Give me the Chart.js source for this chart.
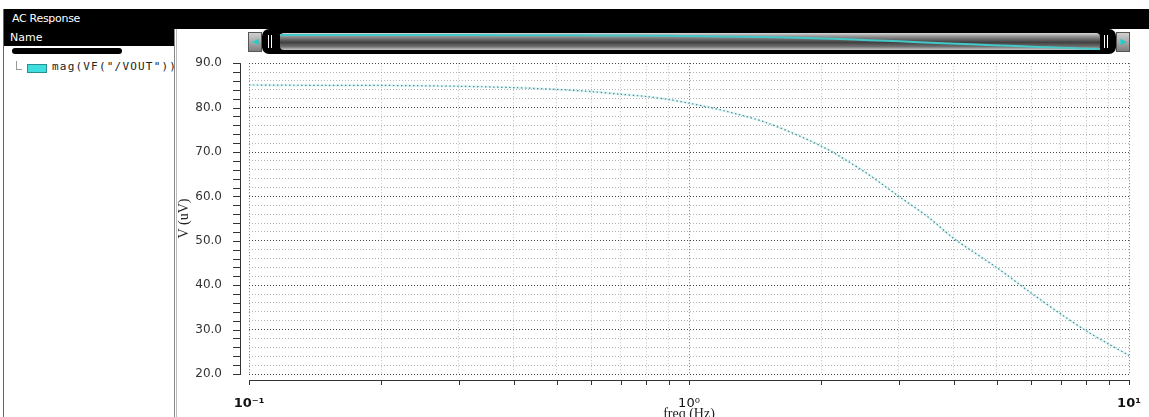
<!DOCTYPE html>
<html>
<head>
<meta charset="utf-8">
<script src="https://cdn.jsdelivr.net/npm/chart.js@4.4.1/dist/chart.umd.min.js"></script>
<style>
body { margin:0; width:1149px; height:417px; overflow:hidden; background:#fff; position:relative; font-family:"DejaVu Sans",sans-serif }
.abs { position:absolute }
#topbar { left:4px; top:9px; width:1145px; height:20px; background:#000; color:#fff; font-size:11px; line-height:20px; padding-left:8px; box-sizing:border-box; letter-spacing:-0.3px }
#leftline { left:3px; top:9px; width:1px; height:408px; background:#666 }
#namebar { left:4px; top:29px; width:171px; height:17px; background:#000; color:#fff; font-size:11px; line-height:17px; padding-left:6px; box-sizing:border-box; overflow:hidden }
#panelline { left:174px; top:29px; width:3px; height:388px; border-left:1px solid #888; border-right:1px solid #bbb; box-sizing:border-box }
#blackpill { left:12px; top:48px; width:110px; height:6px; background:#000; border-radius:3px }
#branch { left:16px; top:61px; width:5px; height:8px; border-left:1px solid #999; border-bottom:1px solid #999 }
#swatch { left:27px; top:64px; width:18px; height:7px; background:#3fdede; border:1px solid #2a8f8f }
#itemtext { left:52px; top:60px; width:122px; overflow:hidden; white-space:pre; font-family:"DejaVu Sans Mono",monospace; font-size:11px; letter-spacing:1.2px; color:#222 }
#plot { left:176px; top:29px }
.btn { top:32px; width:12px; height:18px; border:1px solid #555; background:linear-gradient(#d0d0d0,#808080); color:#2cc; font-size:8px; line-height:18px; text-align:center }
#track { left:262px; top:29px; width:854px; height:25px; background:#000; border-radius:7px }
#pill { left:280px; top:33px; width:820px; height:17px; border-radius:4px; background:linear-gradient(to bottom,#d8d8d8 0%,#9a9a9a 18%,#404040 55%,#707070 80%,#c8c8c8 100%) }
.grip { top:35px; width:4px; height:13px; border-left:1px solid #fff; border-right:1px solid #fff; box-sizing:border-box }
#mini { left:280px; top:33px }
</style>
</head>
<body>
<div id="topbar" class="abs">AC Response</div>
<div id="leftline" class="abs"></div>
<div id="namebar" class="abs">Name</div>
<div id="panelline" class="abs"></div>
<div id="blackpill" class="abs"></div>
<div id="branch" class="abs"></div>
<div id="swatch" class="abs"></div>
<div id="itemtext" class="abs">mag(VF("/VOUT"))</div>

<canvas id="plot" class="abs" width="973" height="388"></canvas>

<div class="abs btn" style="left:248px">&#9664;</div>
<div id="track" class="abs"></div>
<div id="pill" class="abs"></div>
<canvas id="mini" class="abs" width="820" height="17"></canvas>
<div class="abs grip" style="left:268px"></div>
<div class="abs grip" style="left:1104px"></div>
<div class="abs btn" style="left:1116px">&#9654;</div>

<script>
// AC response, magnitude of VOUT (uV) vs frequency (Hz)
const freq = [0.1, 0.15, 0.2, 0.3, 0.4, 0.5, 0.6, 0.7, 0.8, 0.9, 1, 1.2, 1.5, 2, 2.5, 3, 3.5, 4, 5, 6, 7, 8, 9, 10]
const vout = [85.1, 85.0, 85.0, 84.8, 84.5, 84.1, 83.6, 83.0, 82.5, 81.8, 81.0, 79.3, 76.6, 71.3, 65.6, 60.0, 55.3, 50.5, 44.0, 38.2, 33.5, 29.7, 26.7, 24.2]

// axis ticks
const xTicks = [0.1, 0.2, 0.3, 0.4, 0.5, 0.6, 0.7, 0.8, 0.9, 1, 2, 3, 4, 5, 6, 7, 8, 9, 10]
const xLabelVals = [0.1, 1, 10]
const xLabelText = ['10\u207B\u00B9', '10\u2070', '10\u00B9']
const yMin = 20
const yMax = 90
const yStep = 2

const points = freq.map((f, i) => ({ x: f, y: vout[i] }))

// axis lines sit a few pixels off the grid, like the simulator's plot
const axisLines = {
    id: 'axisLines',
    afterDraw(chart) {
        const ctx = chart.ctx
        const a = chart.chartArea
        const x = chart.scales.x
        const y = chart.scales.y
        const ax = a.left - 9
        const ay = a.bottom + 6
        ctx.save()
        ctx.strokeStyle = '#333'
        ctx.lineWidth = 1
        ctx.beginPath()
        ctx.moveTo(ax + 0.5, a.top)
        ctx.lineTo(ax + 0.5, a.bottom + 1)
        y.ticks.forEach(t => {
            const py = Math.round(y.getPixelForValue(t.value)) + 0.5
            ctx.moveTo(ax - 7, py)
            ctx.lineTo(ax + 0.5, py)
        })
        ctx.moveTo(a.left, ay + 0.5)
        ctx.lineTo(a.right + 1, ay + 0.5)
        x.ticks.forEach(t => {
            const px = Math.round(x.getPixelForValue(t.value)) + 0.5
            ctx.moveTo(px, ay)
            ctx.lineTo(px, ay + 5)
        })
        ctx.stroke()
        ctx.restore()
    }
}

new Chart(document.getElementById('plot'), {
    type: 'line',
    data: {
        datasets: [{
            data: points,
            borderColor: 'rgba(160,232,236,0.35)',
            borderWidth: 2.5,
            pointRadius: 0,
            tension: 0.3
        }, {
            data: points,
            borderColor: '#2f5759',
            borderWidth: 1.2,
            borderDash: [1.5, 2.5],
            pointRadius: 0,
            tension: 0.3
        }]
    },
    options: {
        responsive: false,
        animation: false,
        layout: { padding: { left: 0, right: 20, top: 33, bottom: 0 } },
        plugins: { legend: { display: false }, tooltip: { enabled: false } },
        scales: {
            x: {
                type: 'logarithmic',
                min: 0.1,
                max: 10,
                afterBuildTicks: s => { s.ticks = xTicks.map(v => ({ value: v })) },
                afterFit: s => {
                    s.height = 43
                    s.paddingLeft = 0
                    s.paddingRight = 0
                },
                border: { display: false, dash: [1, 2] },
                grid: {
                    drawTicks: false,
                    color: c => xLabelVals.includes(c.tick && c.tick.value) ? '#777' : '#c4c4c4'
                },
                ticks: {
                    autoSkip: false,
                    maxRotation: 0,
                    minRotation: 0,
                    padding: 22,
                    color: '#111',
                    font: c => ({ family: 'DejaVu Sans', size: 13, weight: c.tick && c.tick.value === 1 ? 'normal' : 'bold' }),
                    callback: v => {
                        const i = xLabelVals.indexOf(v)
                        return i < 0 ? '' : xLabelText[i]
                    }
                },
                title: {
                    display: true,
                    text: 'freq (Hz)',
                    color: '#222',
                    font: { family: 'Liberation Serif', size: 14 },
                    padding: { top: 0, bottom: -6 }
                }
            },
            y: {
                min: yMin,
                max: yMax,
                afterFit: s => { s.width = 73 },
                border: { display: false, dash: [1, 2] },
                grid: {
                    drawTicks: false,
                    color: c => c.tick && c.tick.value % 10 === 0 ? '#444' : '#b4b4b4'
                },
                ticks: {
                    stepSize: yStep,
                    autoSkip: false,
                    padding: 27,
                    color: '#333',
                    font: { family: 'DejaVu Sans', size: 12 },
                    callback: v => v % 10 === 0 ? v.toFixed(1) : ''
                },
                title: {
                    display: true,
                    text: 'V (uV)',
                    color: '#222',
                    font: { family: 'Liberation Serif', size: 14 },
                    padding: { top: 0, bottom: 0 }
                }
            }
        }
    },
    plugins: [axisLines]
})

// overview curve inside the scroll bar
new Chart(document.getElementById('mini'), {
    type: 'line',
    data: {
        datasets: [{
            data: points,
            borderColor: '#44c8c8',
            borderWidth: 2,
            pointRadius: 0,
            tension: 0.3
        }]
    },
    options: {
        responsive: false,
        animation: false,
        layout: { padding: 0 },
        plugins: { legend: { display: false }, tooltip: { enabled: false } },
        scales: {
            x: { type: 'logarithmic', min: 0.1, max: 10, display: false },
            y: { min: 20, max: 94, display: false }
        }
    }
})
</script>
</body>
</html>
